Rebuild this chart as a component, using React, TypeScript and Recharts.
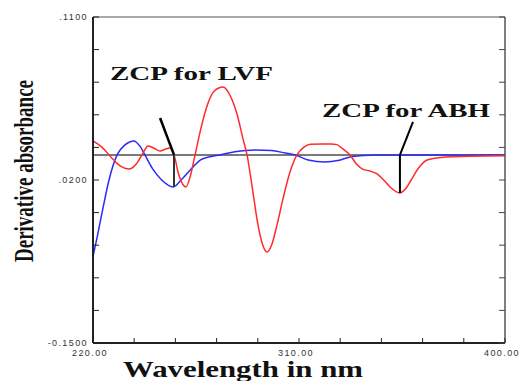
import React from 'react';
import { LineChart, Line, XAxis, YAxis, ReferenceLine } from 'recharts';

// red curve (LVF) – wavelength (nm) and derivative absorbance
const redWavelengths = [
  220, 224, 228, 232, 235.7, 239, 242, 244, 246.5, 249.3, 251.5, 253.6, 255.4, 257.5, 260.6,
  262.5, 264.6, 267, 270, 273, 276.8, 280, 283, 285.5, 287.3, 289.5, 292, 294, 296, 298,
  300.5, 303, 306, 309.1, 312, 315, 320, 324, 326.6, 329, 332.3, 335, 338, 341, 344, 347,
  350, 354.1, 357, 359, 362, 366, 372, 385, 400,
];
const redValues = [
  0.0112, 0.006, -0.002, -0.009, -0.0112, -0.007, 0.002, 0.0072, 0.0055, 0.0032, 0.0045, 0.0056, 0, -0.016, -0.0255,
  -0.017, 0, 0.02, 0.04, 0.051, 0.0542, 0.047, 0.032, 0.013, 0, -0.025, -0.055, -0.071, -0.0774, -0.072,
  -0.055, -0.035, -0.014, 0, 0.006, 0.0085, 0.0088, 0.0088, 0.0082, 0.005, 0, -0.007, -0.0115, -0.0128, -0.015, -0.02,
  -0.026, -0.0303, -0.026, -0.02, -0.011, -0.004, -0.002, -0.001, -0.0007,
];

// blue curve (ABH)
const blueWavelengths = [
  220, 222, 224.4, 227, 230.5, 234, 237.9, 240.5, 242.7, 246, 250, 255, 259, 263.7, 267,
  271, 275.5, 282, 290.8, 298, 304, 308.3, 314, 321.4, 327, 332.3, 338, 343.2, 360, 400,
];
const blueValues = [
  -0.081, -0.064, -0.042, -0.02, 0, 0.008, 0.0112, 0.007, 0, -0.011, -0.02, -0.0255, -0.019, -0.0096, -0.004,
  -0.0015, 0, 0.0025, 0.004, 0.0035, 0.0015, 0, -0.004, -0.0056, -0.0045, -0.0016, -0.0005, 0, 0, 0,
];

const xTicks = [220, 238, 256, 274, 292, 310, 328, 346, 364, 382, 400];
const xLabelValues = [220, 310, 400];
const xLabels = ['220.00', '310.00', '400.00'];

const yTicks = [-0.15, -0.124, -0.098, -0.072, -0.046, -0.02, 0.006, 0.032, 0.058, 0.084, 0.11];
const yLabelValues = [0.11, -0.02, -0.15];
const yLabels = ['.1100', '.0200', '-0.1500'];

// zero crossing points: wavelength, value of the other curve there
const zcpWavelengths = [255.4, 354.1];
const zcpDepths = [-0.0255, -0.0303];

const redData = redWavelengths.map((wl, i) => ({ wl, v: redValues[i] }));
const blueData = blueWavelengths.map((wl, i) => ({ wl, v: blueValues[i] }));

const findLabel = (vals: number[], labels: string[], v: number) => {
  const i = vals.findIndex((a) => Math.abs(a - v) < 1e-6);
  return i >= 0 ? labels[i] : null;
};

const tickFont = { fontFamily: 'Liberation Sans, Arial, sans-serif', fontSize: 9, fill: '#333', letterSpacing: 1.4 };

const LeftTick = ({ x, y, payload }: any) => {
  const label = findLabel(yLabelValues, yLabels, payload.value);
  return (
    <g>
      <line x1={x} x2={x + 6} y1={y} y2={y} stroke="#222" strokeWidth={1} />
      {label && (
        <text x={x - 5} y={y + 3} textAnchor="end" {...tickFont}>
          {label}
        </text>
      )}
    </g>
  );
};

const BottomTick = ({ x, y, payload }: any) => {
  const label = findLabel(xLabelValues, xLabels, payload.value);
  return (
    <g>
      <line x1={x} x2={x} y1={y} y2={y - 5} stroke="#222" strokeWidth={1} />
      {label && (
        <text x={x - 3} y={y + 13} textAnchor="middle" {...tickFont}>
          {label}
        </text>
      )}
    </g>
  );
};

const TopTick = ({ x, y }: any) => <line x1={x} x2={x} y1={y} y2={y + 5} stroke="#444" strokeWidth={1} />;
const RightTick = ({ x, y }: any) => <line x1={x} x2={x - 6} y1={y} y2={y} stroke="#444" strokeWidth={1} />;

const W = 519;
const H = 381;

export default function App() {
  return (
    <div style={{ position: 'absolute', left: 0, top: 0, width: W, height: H, background: '#fff' }}>
      <LineChart width={W} height={H} margin={{ top: 16, right: 13, bottom: 37, left: 92 }}>
        <XAxis
          dataKey="wl"
          type="number"
          domain={[220, 400]}
          ticks={xTicks}
          allowDataOverflow
          height={1}
          tickSize={0}
          tickMargin={0}
          tickLine={false}
          tick={BottomTick}
          axisLine={{ stroke: '#222', strokeWidth: 2 }}
        />
        <XAxis
          xAxisId="top"
          orientation="top"
          type="number"
          domain={[220, 400]}
          ticks={xTicks}
          allowDataOverflow
          height={1}
          tickSize={0}
          tickMargin={0}
          tickLine={false}
          tick={TopTick}
          axisLine={{ stroke: '#555', strokeWidth: 1 }}
        />
        <YAxis
          type="number"
          domain={[-0.15, 0.11]}
          ticks={yTicks}
          allowDataOverflow
          width={1}
          tickSize={0}
          tickMargin={0}
          tickLine={false}
          tick={LeftTick}
          axisLine={{ stroke: '#222', strokeWidth: 2 }}
        />
        <YAxis
          yAxisId="right"
          orientation="right"
          type="number"
          domain={[-0.15, 0.11]}
          ticks={yTicks}
          allowDataOverflow
          width={1}
          tickSize={0}
          tickMargin={0}
          tickLine={false}
          tick={RightTick}
          axisLine={{ stroke: '#555', strokeWidth: 1.5 }}
        />
        <ReferenceLine y={0} stroke="#7a7a7a" strokeWidth={2} />
        <Line
          data={blueData}
          dataKey="v"
          type="monotone"
          stroke="#2a2aff"
          strokeWidth={1.5}
          dot={false}
          isAnimationActive={false}
        />
        <Line
          data={redData}
          dataKey="v"
          type="monotone"
          stroke="#ff2a2a"
          strokeWidth={1.5}
          dot={false}
          isAnimationActive={false}
        />
        <ReferenceLine
          segment={[{ x: 249.3, y: 0.0295 }, { x: zcpWavelengths[0], y: 0 }]}
          stroke="#000"
          strokeWidth={2.5}
        />
        <ReferenceLine
          segment={[{ x: zcpWavelengths[0], y: 0 }, { x: zcpWavelengths[0], y: zcpDepths[0] }]}
          stroke="#333"
          strokeWidth={2}
        />
        <ReferenceLine
          segment={[{ x: 359.8, y: 0.0263 }, { x: zcpWavelengths[1], y: 0 }]}
          stroke="#000"
          strokeWidth={2}
        />
        <ReferenceLine
          segment={[{ x: zcpWavelengths[1], y: 0 }, { x: zcpWavelengths[1], y: zcpDepths[1] }]}
          stroke="#000"
          strokeWidth={2}
        />
      </LineChart>
      <svg
        width={W}
        height={H}
        style={{ position: 'absolute', left: 0, top: 0, pointerEvents: 'none' }}
      >
        <g fontFamily="Liberation Serif, Times New Roman, serif" fontWeight="bold" fill="#111">
          <text x={110} y={80} fontSize={19} textLength={163} lengthAdjust="spacingAndGlyphs">
            ZCP for LVF
          </text>
          <text x={322} y={117} fontSize={19} textLength={168} lengthAdjust="spacingAndGlyphs">
            ZCP for ABH
          </text>
          <text x={123} y={377} fontSize={23} textLength={240} lengthAdjust="spacingAndGlyphs">
            Wavelength in nm
          </text>
          <text
            x={0}
            y={0}
            fontSize={27}
            textAnchor="middle"
            textLength={182}
            lengthAdjust="spacingAndGlyphs"
            transform="translate(33,171) rotate(-90)"
          >
            Derivative absorbance
          </text>
        </g>
      </svg>
    </div>
  );
}
